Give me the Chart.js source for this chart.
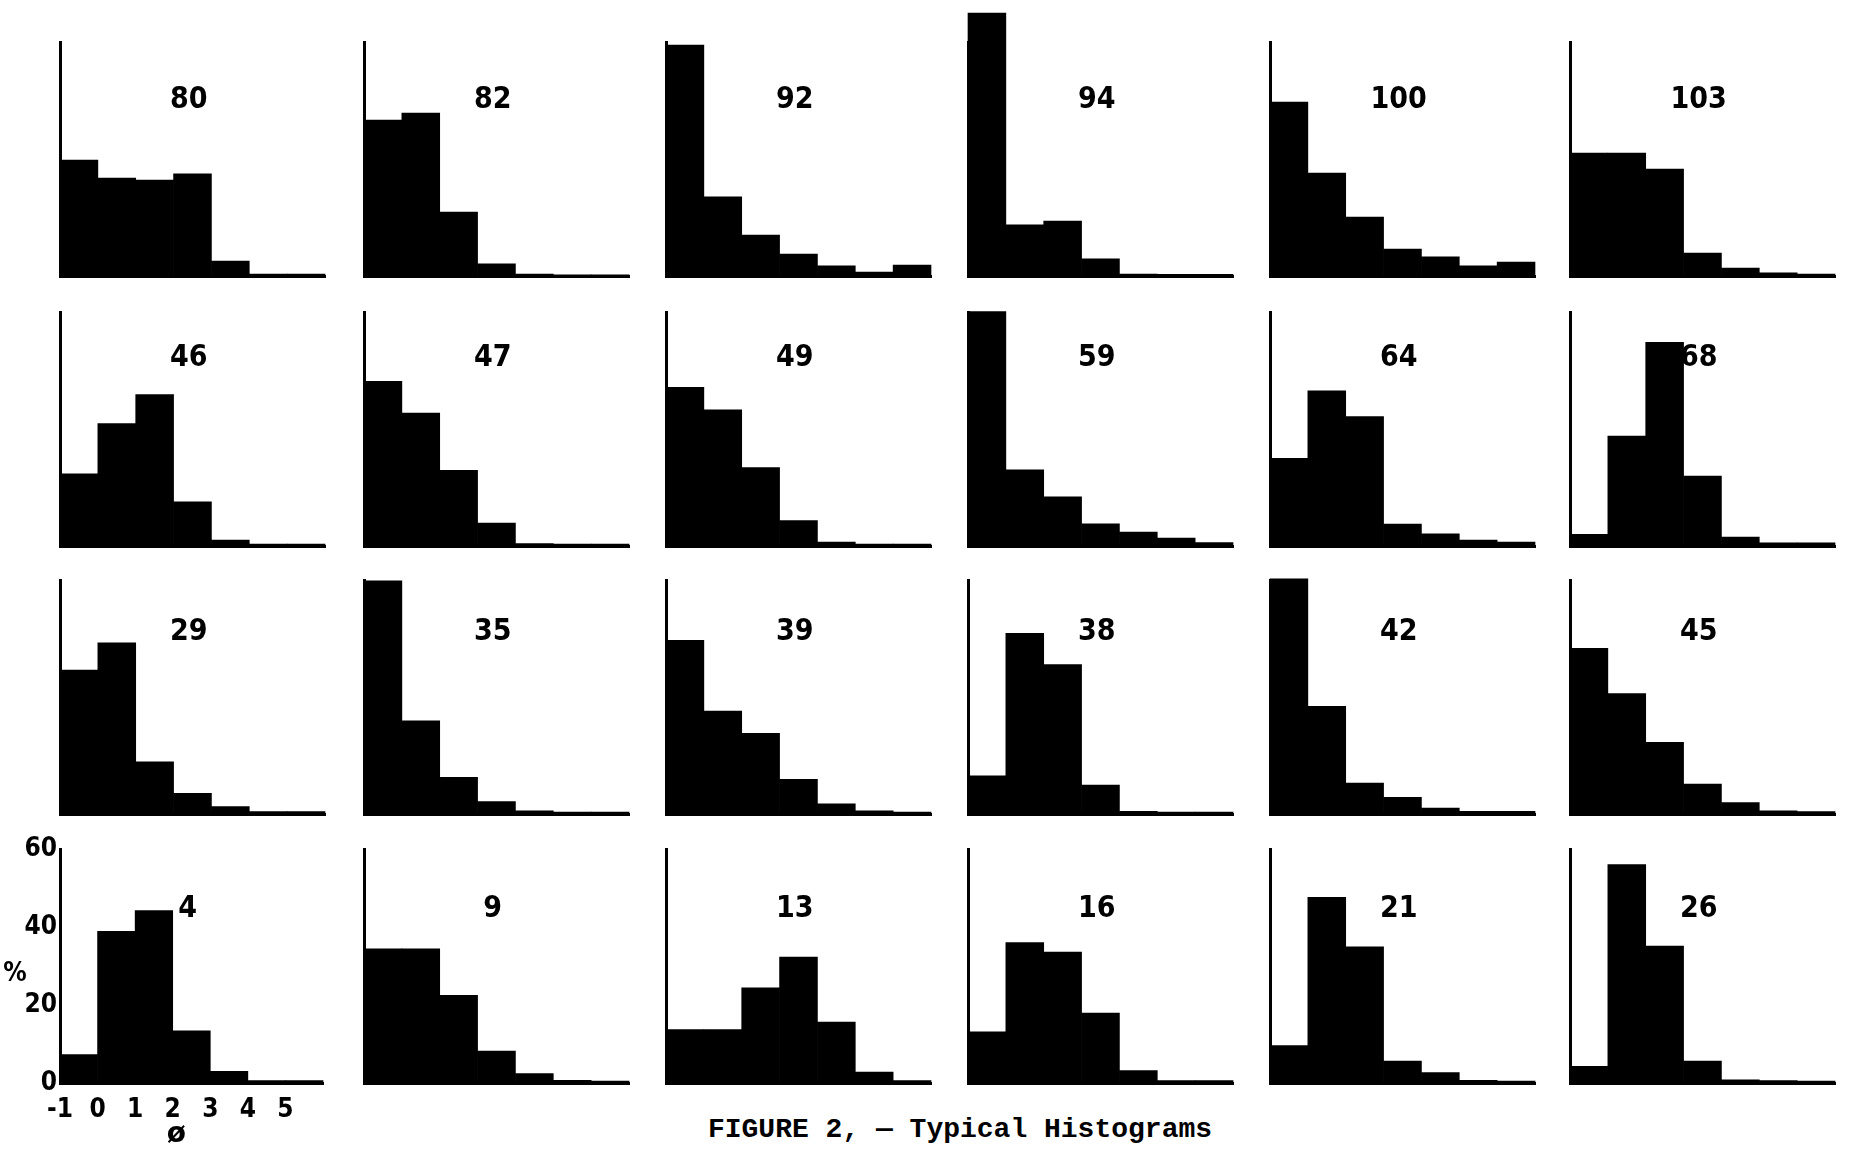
<!DOCTYPE html>
<html>
<head>
<meta charset="utf-8">
<script src="https://cdn.jsdelivr.net/npm/chart.js@4.4.1/dist/chart.umd.min.js"></script>
<style>
  html, body { margin: 0; padding: 0; background: #fff; }
  body { width: 1850px; height: 1153px; position: relative; overflow: hidden; }
  canvas { position: absolute; }
  #caption {
    position: absolute; left: 0; width: 1920px; top: 1116px;
    text-align: center; white-space: nowrap;
    font: bold 28px "Liberation Mono", "DejaVu Sans Mono", monospace;
    line-height: 28px; color: #000;
  }
</style>
</head>
<body>
<div id="caption">FIGURE 2, — Typical Histograms</div>
<script>
// ---------- data ----------
const phiBinCenters = [-0.5, 0.5, 1.5, 2.5, 3.5, 4.5, 5.5];
const phiTickLabels = ['-1', '0', '1', '2', '3', '4', '5'];
const percentTicks = [0, 20, 40, 60];

const h80  = [29.7, 25.1, 24.6, 26.2, 3.8, 0.5, 0.5];
const h82  = [40.0, 41.8, 16.4, 3.1, 0.5, 0.3, 0.3];
const h92  = [59.2, 20.3, 10.5, 5.6, 2.6, 1.0, 2.8];
const h94  = [67.4, 13.1, 14.1, 4.4, 0.5, 0.4, 0.4];
const h100 = [44.6, 26.4, 15.1, 6.9, 4.9, 2.6, 3.6];
const h103 = [31.5, 31.5, 27.4, 5.9, 2.0, 0.8, 0.5];

const h46 = [18.5, 31.4, 38.8, 11.3, 1.5, 0.5, 0.5];
const h47 = [42.2, 34.1, 19.4, 5.9, 0.6, 0.5, 0.5];
const h49 = [40.7, 34.9, 20.1, 6.5, 1.0, 0.5, 0.5];
const h59 = [60.1, 19.5, 12.6, 5.7, 3.6, 2.0, 0.9];
const h64 = [22.5, 39.8, 33.2, 5.6, 3.1, 1.5, 1.0];
const h68 = [3.0, 28.2, 52.2, 17.9, 2.3, 0.8, 0.8];

const h29 = [36.9, 43.9, 13.4, 5.3, 1.9, 0.6, 0.6];
const h35 = [59.8, 23.9, 9.4, 3.2, 0.8, 0.5, 0.5];
const h39 = [44.5, 26.4, 20.7, 8.9, 2.6, 0.8, 0.5];
const h38 = [9.8, 46.3, 38.3, 7.4, 0.7, 0.5, 0.5];
const h42 = [60.3, 27.6, 7.9, 4.3, 1.5, 0.7, 0.7];
const h45 = [42.5, 30.9, 18.4, 7.7, 2.9, 0.8, 0.6];

const h4  = [7.3, 38.9, 44.2, 13.4, 3.0, 0.6, 0.6];
const h9  = [34.4, 34.4, 22.5, 8.2, 2.4, 0.7, 0.5];
const h13 = [13.7, 13.7, 24.4, 32.3, 15.6, 2.8, 0.6];
const h16 = [13.1, 36.0, 33.6, 17.9, 3.2, 0.6, 0.6];
const h21 = [9.6, 47.6, 34.9, 5.6, 2.7, 0.7, 0.5];
const h26 = [4.3, 56.0, 35.1, 5.6, 0.8, 0.6, 0.5];

const panelLabels = ['80', '82', '92', '94', '100', '103',
                     '46', '47', '49', '59', '64', '68',
                     '29', '35', '39', '38', '42', '45',
                     '4', '9', '13', '16', '21', '26'];
const panelSeries = [h80, h82, h92, h94, h100, h103,
                     h46, h47, h49, h59, h64, h68,
                     h29, h35, h39, h38, h42, h45,
                     h4, h9, h13, h16, h21, h26];
const axisPanel = '4';

// ---------- layout ----------
const colAxisX = [60, 364, 666, 968, 1270, 1570];
const rowBaseY = [276, 546, 814, 1083];
const rowLabelRise = [176, 188, 182, 174];   // px of the panel number above the baseline
const Y_MAX = 60;
const PLOT_H = 234;
const PLOT_W = 265;
const LABEL_X = 2.4;

const panelLabelPlugin = {
  id: 'panelLabel',
  afterDatasetsDraw(chart, args, opts) {
    const { ctx, scales: { x, y }, chartArea } = chart;
    ctx.save();
    ctx.fillStyle = '#000';
    ctx.textAlign = 'center';
    ctx.textBaseline = 'middle';
    ctx.font = 'bold 30px "Liberation Sans Narrow", "DejaVu Sans Condensed", sans-serif';
    ctx.fillText(opts.text, x.getPixelForValue(LABEL_X), chartArea.bottom - opts.rise);
    if (opts.axisTitles) {
      ctx.font = 'bold 26px "Liberation Sans Narrow", "DejaVu Sans Condensed", sans-serif';
      ctx.fillText('%', chartArea.left - 45, y.getPixelForValue(28));
      ctx.font = 'bold 28px "DejaVu Sans", sans-serif';
      ctx.fillText('ø', x.getPixelForValue(2.1), chartArea.bottom + 52);
    }
    ctx.restore();
  }
};

panelLabels.forEach((label, i) => {
  const col = i % 6, row = Math.floor(i / 6);
  const withAxes = label === axisPanel;
  const pad = withAxes
    ? { left: 0, top: 45, right: 10, bottom: 0 }
    : { left: 12, top: 45, right: 10, bottom: 10 };
  const yAxisW = withAxes ? 60 : 0;
  const xAxisH = withAxes ? 72 : 0;
  const width = pad.left + yAxisW + PLOT_W + pad.right;
  const height = pad.top + PLOT_H + xAxisH + pad.bottom;
  const cv = document.createElement('canvas');
  cv.width = width; cv.height = height;
  cv.style.left = (colAxisX[col] - pad.left - yAxisW) + 'px';
  cv.style.top = (rowBaseY[row] - PLOT_H - pad.top) + 'px';
  document.body.appendChild(cv);

  const tickFont = { family: '"Liberation Sans Narrow", "DejaVu Sans Condensed", sans-serif', size: 26, weight: 'bold' };

  new Chart(cv, {
    type: 'bar',
    data: {
      datasets: [{
        data: panelSeries[i].map((v, k) => ({ x: phiBinCenters[k], y: v })),
        backgroundColor: '#000',
        borderWidth: 0,
        barPercentage: 1,
        categoryPercentage: 1,
        clip: false
      }]
    },
    options: {
      responsive: false,
      animation: false,
      devicePixelRatio: 1,
      layout: { padding: pad },
      events: [],
      plugins: {
        legend: { display: false },
        tooltip: { enabled: false },
        title: { display: false },
        panelLabel: { text: label, rise: rowLabelRise[row], axisTitles: withAxes }
      },
      scales: {
        x: {
          type: 'linear',
          min: -1, max: 6,
          offset: false,
          grid: { display: false, drawTicks: false },
          border: { display: true, color: '#000', width: 3 },
          ticks: {
            display: withAxes,
            stepSize: 1,
            autoSkip: false,
            maxRotation: 0,
            padding: 12,
            color: '#000',
            font: tickFont,
            callback: (v) => phiTickLabels[v + 1] ?? ''
          },
          afterFit: (s) => { s.height = xAxisH; }
        },
        y: {
          min: 0, max: Y_MAX,
          grid: { display: false, drawTicks: false },
          border: { display: true, color: '#000', width: 3 },
          ticks: {
            display: withAxes,
            stepSize: 20,
            padding: 3,
            color: '#000',
            font: tickFont,
            callback: (v) => percentTicks.includes(v) ? String(v) : ''
          },
          afterFit: (s) => { s.width = yAxisW; }
        }
      }
    },
    plugins: [panelLabelPlugin]
  });
});
</script>
</body>
</html>
